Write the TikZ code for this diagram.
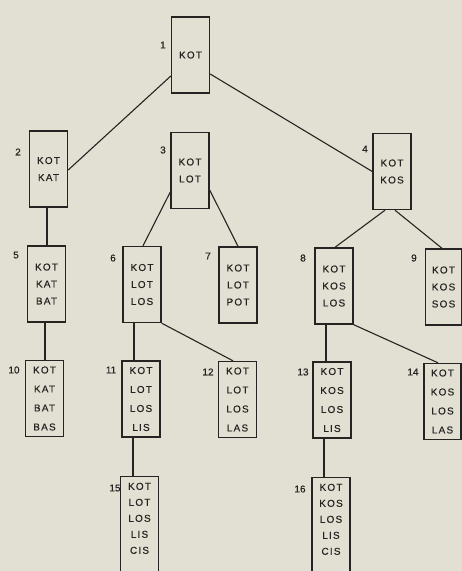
\documentclass[tikz,border=0pt]{standalone}
\usepackage{fontspec}
\setmainfont{Liberation Sans}
\newfontfamily\boxfont[LetterSpace=12,FakeBold=0.3]{Liberation Sans}
\newfontfamily\numfont[FakeBold=0.3]{Liberation Sans}
\definecolor{paper}{RGB}{226,224,211}
\definecolor{ink}{RGB}{38,36,34}
\begin{document}
\begin{tikzpicture}[x=1pt,y=-1pt,
  wordbox/.style={draw=ink, line width=1.4pt, fill=paper, inner sep=0pt,
    minimum width=38pt, minimum height=76pt, align=center, text=ink,
    font=\boxfont\fontsize{10}{17}\selectfont},
  wide4/.style={font=\boxfont\fontsize{10}{19}\selectfont},
  tight5/.style={font=\boxfont\fontsize{10}{16}\selectfont, minimum height=104pt, anchor=north},
  num/.style={text=ink, inner sep=0pt, font=\numfont\fontsize{10}{12}\selectfont},
  edge/.style={draw=ink, line width=1.1pt}]
  % page
  \fill[paper] (0,0) rectangle (462,571);
  \useasboundingbox (0,0) rectangle (462,571);
  \begin{scope}
  \clip (0,0) rectangle (462,571);
  % tree of words
  \node[wordbox] (n1) at (190.5,55) {KOT};
  \node[wordbox] (n2) at (48.5,169) {KOT\\KAT};
  \node[wordbox] (n3) at (190,170.5) {KOT\\LOT};
  \node[wordbox] (n4) at (392,171.5) {KOT\\KOS};
  \node[wordbox] (n5) at (46.5,284) {KOT\\KAT\\BAT};
  \node[wordbox] (n6) at (142,284.5) {KOT\\LOT\\LOS};
  \node[wordbox] (n7) at (238,285) {KOT\\LOT\\POT};
  \node[wordbox] (n8) at (334,286) {KOT\\KOS\\LOS};
  \node[wordbox, minimum width=36pt] (n9) at (443.5,287) {KOT\\KOS\\SOS};
  \node[wordbox, wide4] (n10) at (44.5,398.5) {KOT\\KAT\\BAT\\BAS};
  \node[wordbox, wide4] (n11) at (141,399) {KOT\\LOT\\LOS\\LIS};
  \node[wordbox, wide4] (n12) at (237.5,399.5) {KOT\\LOT\\LOS\\LAS};
  \node[wordbox, wide4] (n13) at (332,400) {KOT\\KOS\\LOS\\LIS};
  \node[wordbox, wide4, minimum width=37pt] (n14) at (442.5,401.5) {KOT\\KOS\\LOS\\LAS};
  \node[wordbox, tight5] (n15) at (139.5,476) {KOT\\LOT\\LOS\\LIS\\CIS\\\strut};
  \node[wordbox, tight5] (n16) at (331,477) {KOT\\KOS\\LOS\\LIS\\CIS\\\strut};
  % connectors
  \draw[edge] ([yshift=-21pt]n1.west) -- ([yshift=-1pt]n2.east);
  \draw[edge] ([yshift=-19pt]n1.east) -- (n4.west);
  \draw[edge] ([xshift=-1.5pt]n2.south) -- ([xshift=0.5pt]n5.north);
  \draw[edge] ([yshift=-21.5pt]n3.west) -- ([xshift=1pt]n6.north);
  \draw[edge] ([yshift=-19.5pt]n3.east) -- (n7.north);
  \draw[edge] ([xshift=-7pt]n4.south) -- ([xshift=1pt]n8.north);
  \draw[edge] ([xshift=3pt]n4.south) -- ([xshift=-1.5pt]n9.north);
  \draw[edge] ([xshift=-1.5pt]n5.south) -- ([xshift=0.5pt]n10.north);
  \draw[edge] ([xshift=-8pt]n6.south) -- ([xshift=-7pt]n11.north);
  \draw[edge] (n6.south east) -- ([xshift=-4.5pt]n12.north);
  \draw[edge] ([xshift=-8pt]n8.south) -- ([xshift=-6pt]n13.north);
  \draw[edge] (n8.south east) -- ([xshift=-4.5pt]n14.north);
  \draw[edge] ([xshift=-8pt]n11.south) -- ([xshift=-6.5pt]n15.north);
  \draw[edge] ([xshift=-8pt]n13.south) -- ([xshift=-7pt]n16.north);
  % step numbers
  \node[num] (l1) at (163,45) {1};
  \node[num] (l2) at (18,152) {2};
  \node[num] (l3) at (163,150) {3};
  \node[num] (l4) at (365,149) {4};
  \node[num] (l5) at (16,255) {5};
  \node[num] (l6) at (113,258) {6};
  \node[num] (l7) at (208,256) {7};
  \node[num] (l8) at (303,258) {8};
  \node[num] (l9) at (414,258) {9};
  \node[num] (l10) at (14,370) {10};
  \node[num] (l11) at (111,370) {11};
  \node[num] (l12) at (208,372) {12};
  \node[num] (l13) at (303,372) {13};
  \node[num] (l14) at (413,372) {14};
  \node[num] (l15) at (115,488) {15};
  \node[num] (l16) at (300,489) {16};
  \end{scope}
\end{tikzpicture}
\end{document}
